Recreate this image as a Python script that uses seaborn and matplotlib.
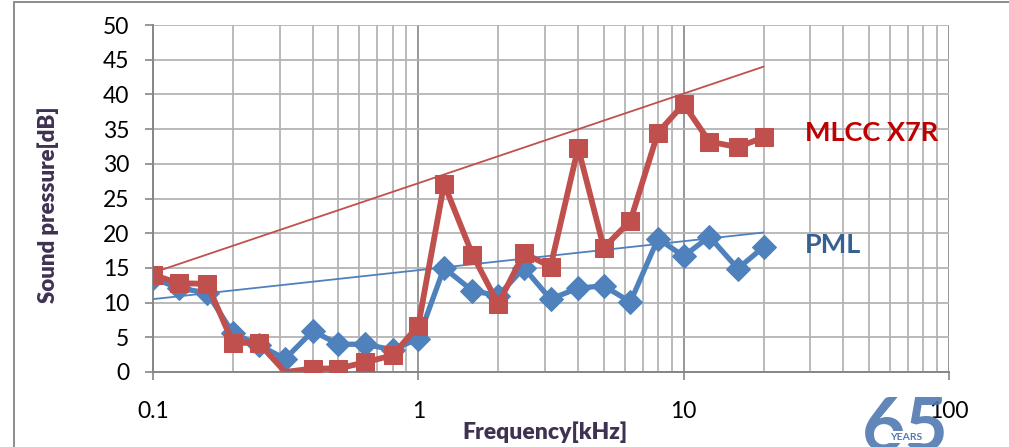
import numpy as np
import pandas as pd
import matplotlib
matplotlib.use("Agg")
import matplotlib.pyplot as plt
import seaborn as sns
from matplotlib.lines import Line2D
from matplotlib.ticker import LogLocator, FixedLocator, FixedFormatter, NullFormatter

# One-third-octave centre frequencies [kHz]
freq_khz = [0.1, 0.125, 0.16, 0.2, 0.25, 0.315, 0.4, 0.5, 0.63, 0.8,
            1.0, 1.25, 1.6, 2.0, 2.5, 3.15, 4.0, 5.0, 6.3, 8.0,
            10.0, 12.5, 16.0, 20.0]

# Sound pressure [dB]
mlcc_x7r = [14.0, 12.8, 12.7, 4.2, 4.2, 0.0, 0.5, 0.5, 1.4, 2.4,
            6.7, 27.1, 16.9, 9.8, 17.1, 15.2, 32.3, 17.9, 21.8, 34.5,
            38.6, 33.2, 32.4, 33.8]
pml = [13.5, 12.1, 11.4, 5.6, 3.9, 1.9, 5.9, 4.0, 4.0, 3.2,
       4.8, 15.0, 11.7, 11.0, 15.0, 10.5, 12.1, 12.4, 10.1, 19.2,
       16.7, 19.5, 14.9, 18.0]

# Envelope guide lines (end points)
trend_freq = [0.1, 20.0]
mlcc_trend = [14.3, 44.0]
pml_trend = [10.5, 20.1]

x_ticks = [0.1, 1, 10, 100]
x_tick_labels = ["0.1", "1", "10", "100"]
y_ticks = list(range(0, 51, 5))

RED = "#C0504D"
BLUE = "#4F81BD"
RED_TXT = "#C00000"
BLUE_TXT = "#376092"
AXIS_TXT = "#3F3151"
GRID = "#B4B4B4"
GRID_MAJ = "#8F8F8F"
SPINE = "#868686"
BADGE = "#5079B0"

sns.set_theme(style="white")
plt.rcParams["font.family"] = ["Lato", "DejaVu Sans"]

W, H = 1009, 447
fig = plt.figure(figsize=(W / 100, H / 100), dpi=100)
ax = fig.add_axes([153 / W, 1 - 372 / H, (949 - 153) / W, (372 - 25) / H])

ax.set_xscale("log")
ax.set_xlim(0.1, 100)
ax.set_ylim(0, 50)

# grid
ax.xaxis.set_major_locator(FixedLocator(x_ticks))
ax.xaxis.set_major_formatter(FixedFormatter(x_tick_labels))
ax.xaxis.set_minor_locator(LogLocator(base=10, subs=np.arange(2, 10)))
ax.xaxis.set_minor_formatter(NullFormatter())
ax.set_yticks(y_ticks)
ax.grid(True, which="minor", axis="x", color=GRID, lw=1.3, zorder=0)
ax.grid(True, which="major", axis="x", color=GRID_MAJ, lw=1.3, zorder=0)
ax.grid(True, which="major", axis="y", color=GRID, lw=1.3, zorder=0)
ax.set_axisbelow(True)

for s in ["top", "right"]:
    ax.spines[s].set_visible(False)
for s in ["left", "bottom"]:
    ax.spines[s].set_color(SPINE)
    ax.spines[s].set_linewidth(1.4)

ax.tick_params(axis="y", which="major", direction="out", length=6, width=1.2,
               color=SPINE, pad=11, labelsize=16.5, labelcolor="black", left=True)
ax.tick_params(axis="x", which="major", direction="out", length=6, width=1.2,
               color=SPINE, pad=15, labelsize=16.5, labelcolor="black", bottom=True)
ax.tick_params(axis="x", which="minor", length=0)

# envelope lines
sns.lineplot(x=trend_freq, y=mlcc_trend, ax=ax, color=RED, lw=1.3, zorder=3)
sns.lineplot(x=trend_freq, y=pml_trend, ax=ax, color=BLUE, lw=1.3, zorder=3)

# measured series
mark_idx = [i for i, v in enumerate(mlcc_x7r) if v > 0]
sns.lineplot(x=freq_khz, y=pml, ax=ax, color=BLUE, lw=3.8, marker="D",
             markersize=12, markeredgecolor=BLUE, zorder=4)
sns.lineplot(x=freq_khz, y=mlcc_x7r, ax=ax, color=RED, lw=4.2, marker="s",
             markersize=13, markeredgecolor=RED, markevery=mark_idx, zorder=5)

ax.set_xlabel("")
ax.set_ylabel("")

# series labels
ax.text(805 / W, 1 - 133 / H, "MLCC X7R", transform=fig.transFigure,
        color=RED_TXT, fontsize=19.5, fontweight="bold", va="center", ha="left")
ax.text(805 / W, 1 - 245 / H, "PML", transform=fig.transFigure,
        color=BLUE_TXT, fontsize=19.5, fontweight="bold", va="center", ha="left")

# axis titles
fig.text(48 / W, 1 - 205 / H, "Sound pressure[dB]", rotation=90, color=AXIS_TXT,
         fontsize=16, fontweight="heavy", ha="center", va="center")
fig.text(545 / W, 1 - 432 / H, "Frequency[kHz]", color=AXIS_TXT,
         fontsize=16.5, fontweight="heavy", ha="center", va="center")

# anniversary badge
ax.text(905 / W, 1 - 451 / H, "65", transform=fig.transFigure, color=BADGE,
        fontsize=54, fontweight="bold", ha="center", va="baseline", zorder=1,
        clip_on=False, alpha=0.9)
ax.text(906 / W, 1 - 437 / H, "YEARS", transform=fig.transFigure, color=BADGE,
        fontsize=7.5, fontweight="bold", ha="center", va="center", zorder=1.2,
        clip_on=False, bbox=dict(facecolor="white", edgecolor="none", pad=0.8))

# chart frame
fig.add_artist(Line2D([14 / W, 14 / W], [0, 1 - 1.5 / H], color="#8C8C8C", lw=1.4))
fig.add_artist(Line2D([14 / W, 1], [1 - 1.5 / H, 1 - 1.5 / H], color="#8C8C8C", lw=1.4))

fig.savefig("out.png", dpi=100, facecolor="white")
